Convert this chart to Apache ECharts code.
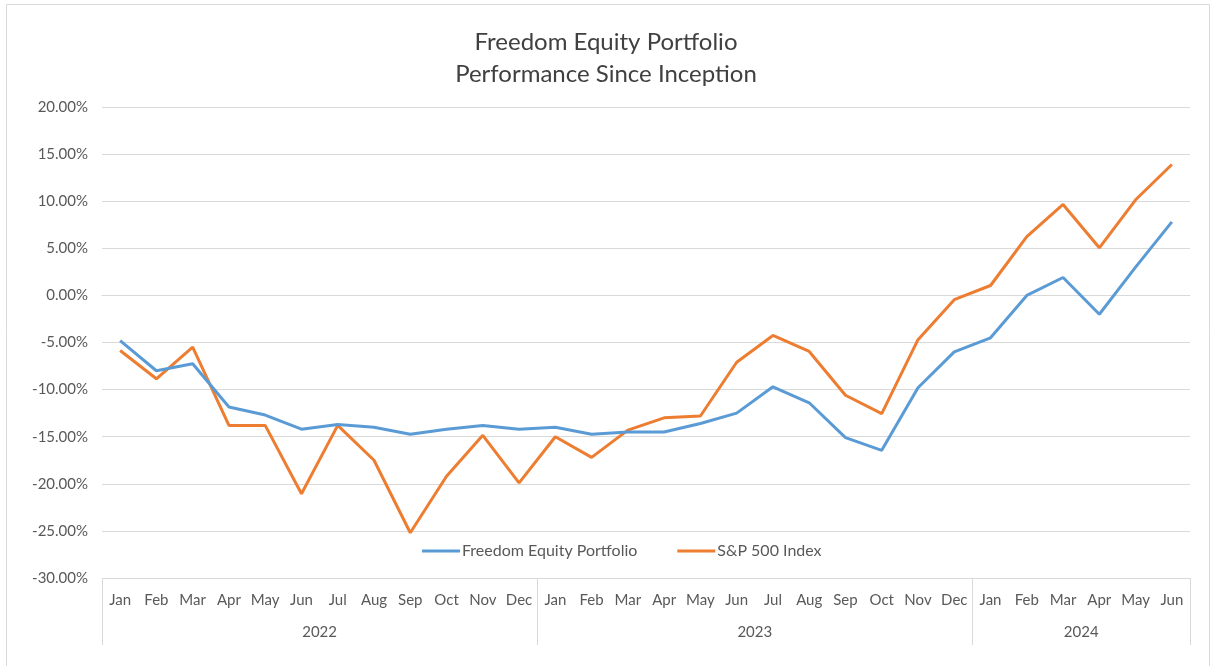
<!DOCTYPE html>
<html>
<head>
<meta charset="utf-8">
<title>Freedom Equity Portfolio</title>
<script src="https://cdn.jsdelivr.net/npm/echarts@6/dist/echarts.min.js"></script>
<style>
    html, body { margin: 0; padding: 0; background: #fff; }
    #chart { width: 1212px; height: 666px; }
</style>
</head>
<body>
<div id="chart"></div>
<script>
// ---------------------------------------------------------------------------
// Data (cumulative return since inception, %)
// ---------------------------------------------------------------------------
var months = ['Jan', 'Feb', 'Mar', 'Apr', 'May', 'Jun', 'Jul', 'Aug', 'Sep', 'Oct', 'Nov', 'Dec',
              'Jan', 'Feb', 'Mar', 'Apr', 'May', 'Jun', 'Jul', 'Aug', 'Sep', 'Oct', 'Nov', 'Dec',
              'Jan', 'Feb', 'Mar', 'Apr', 'May', 'Jun'];
var years = ['2022', '2023', '2024'];
var monthsPerYear = [12, 12, 6];

var freedom = [-4.8, -8.0, -7.25, -11.85, -12.7, -14.2, -13.7, -14.0, -14.75, -14.2, -13.8, -14.2,
               -14.0, -14.75, -14.5, -14.5, -13.6, -12.5, -9.7, -11.4, -15.1, -16.45, -9.8, -6.0,
               -4.5, 0.0, 1.9, -2.0, 3.0, 7.8];
var sp500 = [-5.85, -8.85, -5.5, -13.8, -13.8, -21.05, -13.8, -17.5, -25.2, -19.2, -14.85, -19.9,
             -15.0, -17.2, -14.3, -13.0, -12.8, -7.1, -4.25, -5.95, -10.6, -12.55, -4.7, -0.45,
             1.05, 6.25, 9.65, 5.05, 10.15, 13.9];

var seriesNames = ['Freedom Equity Portfolio', 'S&P 500 Index'];

// year group boundaries and label centres (in month units)
var yearEdges = [0];
var yearCenters = [];
monthsPerYear.forEach(function(n, i) {
    yearCenters.push(yearEdges[i] + n / 2);
    yearEdges.push(yearEdges[i] + n);
});

// ---------------------------------------------------------------------------
// Chart
// ---------------------------------------------------------------------------
var FONT = 'Lato, "DejaVu Sans", sans-serif';
var GRID_COLOR = '#d9d9d9';
var TEXT_COLOR = '#595959';

var myChart = echarts.init(document.getElementById('chart'));

var option = {
    backgroundColor: '#fff',
    textStyle: { fontFamily: FONT },
    title: {
        text: 'Freedom Equity Portfolio\nPerformance Since Inception',
        left: 'center',
        top: 21,
        textStyle: { fontFamily: FONT, fontSize: 24, fontWeight: 'normal', color: '#404040', lineHeight: 32 }
    },
    graphic: [{
        type: 'rect',
        silent: true,
        shape: { x: 6.5, y: 4.5, width: 1203, height: 700 },
        style: { fill: 'none', stroke: GRID_COLOR, lineWidth: 1 }
    }],
    legend: {
        data: seriesNames,
        left: 417,
        top: 538,
        itemWidth: 38,
        itemHeight: 3,
        itemGap: 40,
        icon: 'rect',
        textStyle: { fontFamily: FONT, fontSize: 16, color: TEXT_COLOR, padding: [0, 0, 0, -3] }
    },
    grid: { left: 102, right: 22, top: 107, bottom: 88 },
    xAxis: [{
        type: 'category',
        data: months,
        boundaryGap: true,
        axisLine: { show: true, lineStyle: { color: GRID_COLOR, width: 1 } },
        axisTick: { show: false },
        axisLabel: { color: TEXT_COLOR, fontSize: 15, margin: 15, interval: 0 },
        splitLine: { show: false }
    }, {
        type: 'value',
        min: 0,
        max: months.length,
        position: 'bottom',
        axisLine: { show: false },
        axisTick: {
            show: true,
            customValues: yearEdges,
            length: 67,
            lineStyle: { color: GRID_COLOR, width: 1 }
        },
        axisLabel: {
            show: true,
            customValues: yearCenters,
            margin: 47,
            color: TEXT_COLOR,
            fontSize: 15,
            formatter: function(v) {
                var idx = yearCenters.indexOf(v);
                return idx >= 0 ? years[idx] : '';
            }
        },
        splitLine: { show: false }
    }],
    yAxis: {
        type: 'value',
        min: -30,
        max: 20,
        interval: 5,
        axisLine: { show: false },
        axisTick: { show: false },
        axisLabel: {
            color: TEXT_COLOR,
            fontSize: 15,
            margin: 14,
            formatter: function(v) { return v.toFixed(2) + '%'; }
        },
        splitLine: { lineStyle: { color: GRID_COLOR, width: 1 } }
    },
    series: [{
        name: seriesNames[0],
        type: 'line',
        xAxisIndex: 0,
        data: freedom,
        symbol: 'none',
        lineStyle: { width: 3, color: '#5b9bd5' },
        itemStyle: { color: '#5b9bd5' },
        z: 3
    }, {
        name: seriesNames[1],
        type: 'line',
        xAxisIndex: 0,
        data: sp500,
        symbol: 'none',
        lineStyle: { width: 3, color: '#ed7d31' },
        itemStyle: { color: '#ed7d31' },
        z: 2
    }]
};
myChart.setOption(option);
</script>
</body>
</html>
